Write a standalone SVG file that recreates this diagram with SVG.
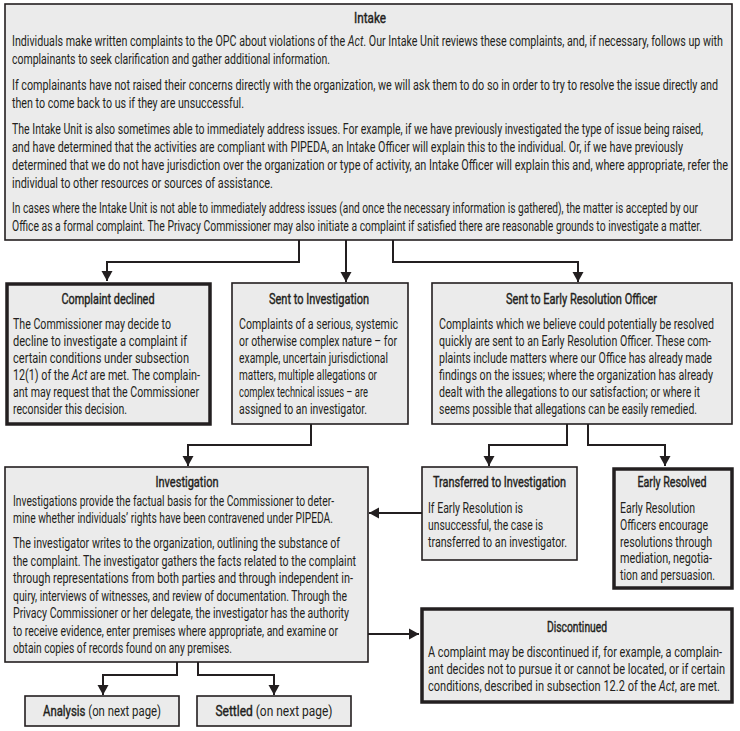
<svg xmlns="http://www.w3.org/2000/svg" width="740" height="731" viewBox="0 0 740 731">
<style>
.box{fill:#ebebeb;stroke:#231f20;stroke-width:1.6}
.thick{fill:#ebebeb;stroke:#231f20;stroke-width:3.5}
text{font-family:Roboto,"Liberation Sans",sans-serif;font-size:14px;fill:#231f20}
.t{font-weight:400;text-anchor:middle;stroke:#231f20;stroke-width:0.4}
.c{fill:none;stroke:#231f20;stroke-width:2}
</style>
<defs>
<marker id="ah" markerUnits="userSpaceOnUse" markerWidth="12" markerHeight="12" viewBox="0 0 12 12" refX="10" refY="6" orient="auto">
<path d="M0,0.5 L10,6 L0,11.5 Z" fill="#231f20"/>
</marker>
</defs>
<g id="connectors">
<path class="c" d="M299,240 V262 H107 V281" marker-end="url(#ah)"/>
<path class="c" d="M346,240 V282" marker-end="url(#ah)"/>
<path class="c" d="M393,240 V262 H578 V282" marker-end="url(#ah)"/>
<path class="c" d="M311,424 V445 H188 V466" marker-end="url(#ah)"/>
<path class="c" d="M567,424 V445 H489 V466" marker-end="url(#ah)"/>
<path class="c" d="M588,424 V445 H665 V466" marker-end="url(#ah)"/>
<path class="c" d="M422,513 H369" marker-end="url(#ah)"/>
<path class="c" d="M368,634 H419" marker-end="url(#ah)"/>
<path class="c" d="M177,662 V675 H103 V695" marker-end="url(#ah)"/>
<path class="c" d="M198,662 V675 H274 V695" marker-end="url(#ah)"/>
</g>
<g id="intake">
<rect class="box" x="5" y="4" width="727" height="236"/>
<text class="t" x="370" y="23" textLength="32" lengthAdjust="spacingAndGlyphs">Intake</text>
<text x="12" y="46" textLength="711" lengthAdjust="spacingAndGlyphs">Individuals make written complaints to the OPC about violations of the <tspan font-style="italic">Act</tspan>. Our Intake Unit reviews these complaints, and, if necessary, follows up with</text>
<text x="12" y="64" textLength="318" lengthAdjust="spacingAndGlyphs">complainants to seek clarification and gather additional information.</text>
<text x="12" y="90" textLength="706" lengthAdjust="spacingAndGlyphs">If complainants have not raised their concerns directly with the organization, we will ask them to do so in order to try to resolve the issue directly and</text>
<text x="12" y="108" textLength="232" lengthAdjust="spacingAndGlyphs">then to come back to us if they are unsuccessful.</text>
<text x="12" y="134" textLength="691" lengthAdjust="spacingAndGlyphs">The Intake Unit is also sometimes able to immediately address issues. For example, if we have previously investigated the type of issue being raised,</text>
<text x="12" y="152" textLength="671" lengthAdjust="spacingAndGlyphs">and have determined that the activities are compliant with PIPEDA, an Intake Officer will explain this to the individual. Or, if we have previously</text>
<text x="12" y="170" textLength="716" lengthAdjust="spacingAndGlyphs">determined that we do not have jurisdiction over the organization or type of activity, an Intake Officer will explain this and, where appropriate, refer the</text>
<text x="12" y="188" textLength="261" lengthAdjust="spacingAndGlyphs">individual to other resources or sources of assistance.</text>
<text x="12" y="213" textLength="686" lengthAdjust="spacingAndGlyphs">In cases where the Intake Unit is not able to immediately address issues (and once the necessary information is gathered), the matter is accepted by our</text>
<text x="12" y="231" textLength="690" lengthAdjust="spacingAndGlyphs">Office as a formal complaint. The Privacy Commissioner may also initiate a complaint if satisfied there are reasonable grounds to investigate a matter.</text>
</g>
<g id="declined">
<rect class="thick" x="7" y="284" width="203" height="140"/>
<text class="t" x="108" y="304" textLength="93" lengthAdjust="spacingAndGlyphs">Complaint declined</text>
<text x="13" y="329" textLength="158" lengthAdjust="spacingAndGlyphs">The Commissioner may decide to</text>
<text x="13" y="346" textLength="174" lengthAdjust="spacingAndGlyphs">decline to investigate a complaint if</text>
<text x="13" y="363" textLength="176" lengthAdjust="spacingAndGlyphs">certain conditions under subsection</text>
<text x="13" y="380" textLength="187" lengthAdjust="spacingAndGlyphs">12(1) of the <tspan font-style="italic">Act</tspan> are met. The complain-</text>
<text x="13" y="397" textLength="186" lengthAdjust="spacingAndGlyphs">ant may request that the Commissioner</text>
<text x="13" y="414" textLength="114" lengthAdjust="spacingAndGlyphs">reconsider this decision.</text>
</g>
<g id="sent-investigation">
<rect class="box" x="232" y="283" width="176" height="141"/>
<text class="t" x="319" y="304" textLength="100" lengthAdjust="spacingAndGlyphs">Sent to Investigation</text>
<text x="239" y="329" textLength="159" lengthAdjust="spacingAndGlyphs">Complaints of a serious, systemic</text>
<text x="239" y="346" textLength="158" lengthAdjust="spacingAndGlyphs">or otherwise complex nature – for</text>
<text x="239" y="363" textLength="149" lengthAdjust="spacingAndGlyphs">example, uncertain jurisdictional</text>
<text x="239" y="380" textLength="138" lengthAdjust="spacingAndGlyphs">matters, multiple allegations or</text>
<text x="239" y="397" textLength="129" lengthAdjust="spacingAndGlyphs">complex technical issues – are</text>
<text x="239" y="414" textLength="128" lengthAdjust="spacingAndGlyphs">assigned to an investigator.</text>
</g>
<g id="sent-early-resolution">
<rect class="box" x="432" y="283" width="300" height="141"/>
<text class="t" x="581.5" y="304" textLength="151" lengthAdjust="spacingAndGlyphs">Sent to Early Resolution Officer</text>
<text x="439" y="329" textLength="275" lengthAdjust="spacingAndGlyphs">Complaints which we believe could potentially be resolved</text>
<text x="439" y="346" textLength="272" lengthAdjust="spacingAndGlyphs">quickly are sent to an Early Resolution Officer. These com-</text>
<text x="439" y="363" textLength="273" lengthAdjust="spacingAndGlyphs">plaints include matters where our Office has already made</text>
<text x="439" y="380" textLength="274" lengthAdjust="spacingAndGlyphs">findings on the issues; where the organization has already</text>
<text x="439" y="397" textLength="261" lengthAdjust="spacingAndGlyphs">dealt with the allegations to our satisfaction; or where it</text>
<text x="439" y="414" textLength="258" lengthAdjust="spacingAndGlyphs">seems possible that allegations can be easily remedied.</text>
</g>
<g id="investigation">
<rect class="box" x="5" y="467" width="363" height="195"/>
<text class="t" x="187" y="487" textLength="63" lengthAdjust="spacingAndGlyphs">Investigation</text>
<text x="13" y="506" textLength="321" lengthAdjust="spacingAndGlyphs">Investigations provide the factual basis for the Commissioner to deter-</text>
<text x="13" y="523" textLength="320" lengthAdjust="spacingAndGlyphs">mine whether individuals’ rights have been contravened under PIPEDA.</text>
<text x="13" y="548" textLength="327" lengthAdjust="spacingAndGlyphs">The investigator writes to the organization, outlining the substance of</text>
<text x="13" y="565.5" textLength="343" lengthAdjust="spacingAndGlyphs">the complaint. The investigator gathers the facts related to the complaint</text>
<text x="13" y="583" textLength="340" lengthAdjust="spacingAndGlyphs">through representations from both parties and through independent in-</text>
<text x="13" y="600.5" textLength="334" lengthAdjust="spacingAndGlyphs">quiry, interviews of witnesses, and review of documentation. Through the</text>
<text x="13" y="618" textLength="336" lengthAdjust="spacingAndGlyphs">Privacy Commissioner or her delegate, the investigator has the authority</text>
<text x="13" y="635.5" textLength="325" lengthAdjust="spacingAndGlyphs">to receive evidence, enter premises where appropriate, and examine or</text>
<text x="13" y="653" textLength="219" lengthAdjust="spacingAndGlyphs">obtain copies of records found on any premises.</text>
</g>
<g id="transferred">
<rect class="box" x="422" y="467" width="155" height="93"/>
<text class="t" x="499.5" y="487" textLength="133" lengthAdjust="spacingAndGlyphs">Transferred to Investigation</text>
<text x="428" y="513" textLength="95" lengthAdjust="spacingAndGlyphs">If Early Resolution is</text>
<text x="428" y="530" textLength="115" lengthAdjust="spacingAndGlyphs">unsuccessful, the case is</text>
<text x="428" y="547" textLength="139" lengthAdjust="spacingAndGlyphs">transferred to an investigator.</text>
</g>
<g id="early-resolved">
<rect class="thick" x="614" y="469" width="118" height="119"/>
<text class="t" x="672" y="487" textLength="69" lengthAdjust="spacingAndGlyphs">Early Resolved</text>
<text x="620" y="513" textLength="75" lengthAdjust="spacingAndGlyphs">Early Resolution</text>
<text x="620" y="530" textLength="88" lengthAdjust="spacingAndGlyphs">Officers encourage</text>
<text x="620" y="546.5" textLength="92" lengthAdjust="spacingAndGlyphs">resolutions through</text>
<text x="620" y="563" textLength="92" lengthAdjust="spacingAndGlyphs">mediation, negotia-</text>
<text x="620" y="580" textLength="95" lengthAdjust="spacingAndGlyphs">tion and persuasion.</text>
</g>
<g id="discontinued">
<rect class="thick" x="422" y="609" width="310" height="93"/>
<text class="t" x="577" y="632" textLength="60" lengthAdjust="spacingAndGlyphs">Discontinued</text>
<text x="428" y="657" textLength="294" lengthAdjust="spacingAndGlyphs">A complaint may be discontinued if, for example, a complain-</text>
<text x="428" y="674" textLength="297" lengthAdjust="spacingAndGlyphs">ant decides not to pursue it or cannot be located, or if certain</text>
<text x="428" y="691" textLength="292" lengthAdjust="spacingAndGlyphs">conditions, described in subsection 12.2 of the <tspan font-style="italic">Act</tspan>, are met.</text>
</g>
<g id="analysis">
<rect class="box" x="25" y="696" width="154" height="30"/>
<text x="102" y="716" text-anchor="middle" textLength="118" lengthAdjust="spacingAndGlyphs"><tspan stroke="#231f20" stroke-width="0.4">Analysis</tspan> (on next page)</text>
</g>
<g id="settled">
<rect class="box" x="197" y="696" width="154" height="30"/>
<text x="274" y="716" text-anchor="middle" textLength="117" lengthAdjust="spacingAndGlyphs"><tspan stroke="#231f20" stroke-width="0.4">Settled</tspan> (on next page)</text>
</g>
</svg>
